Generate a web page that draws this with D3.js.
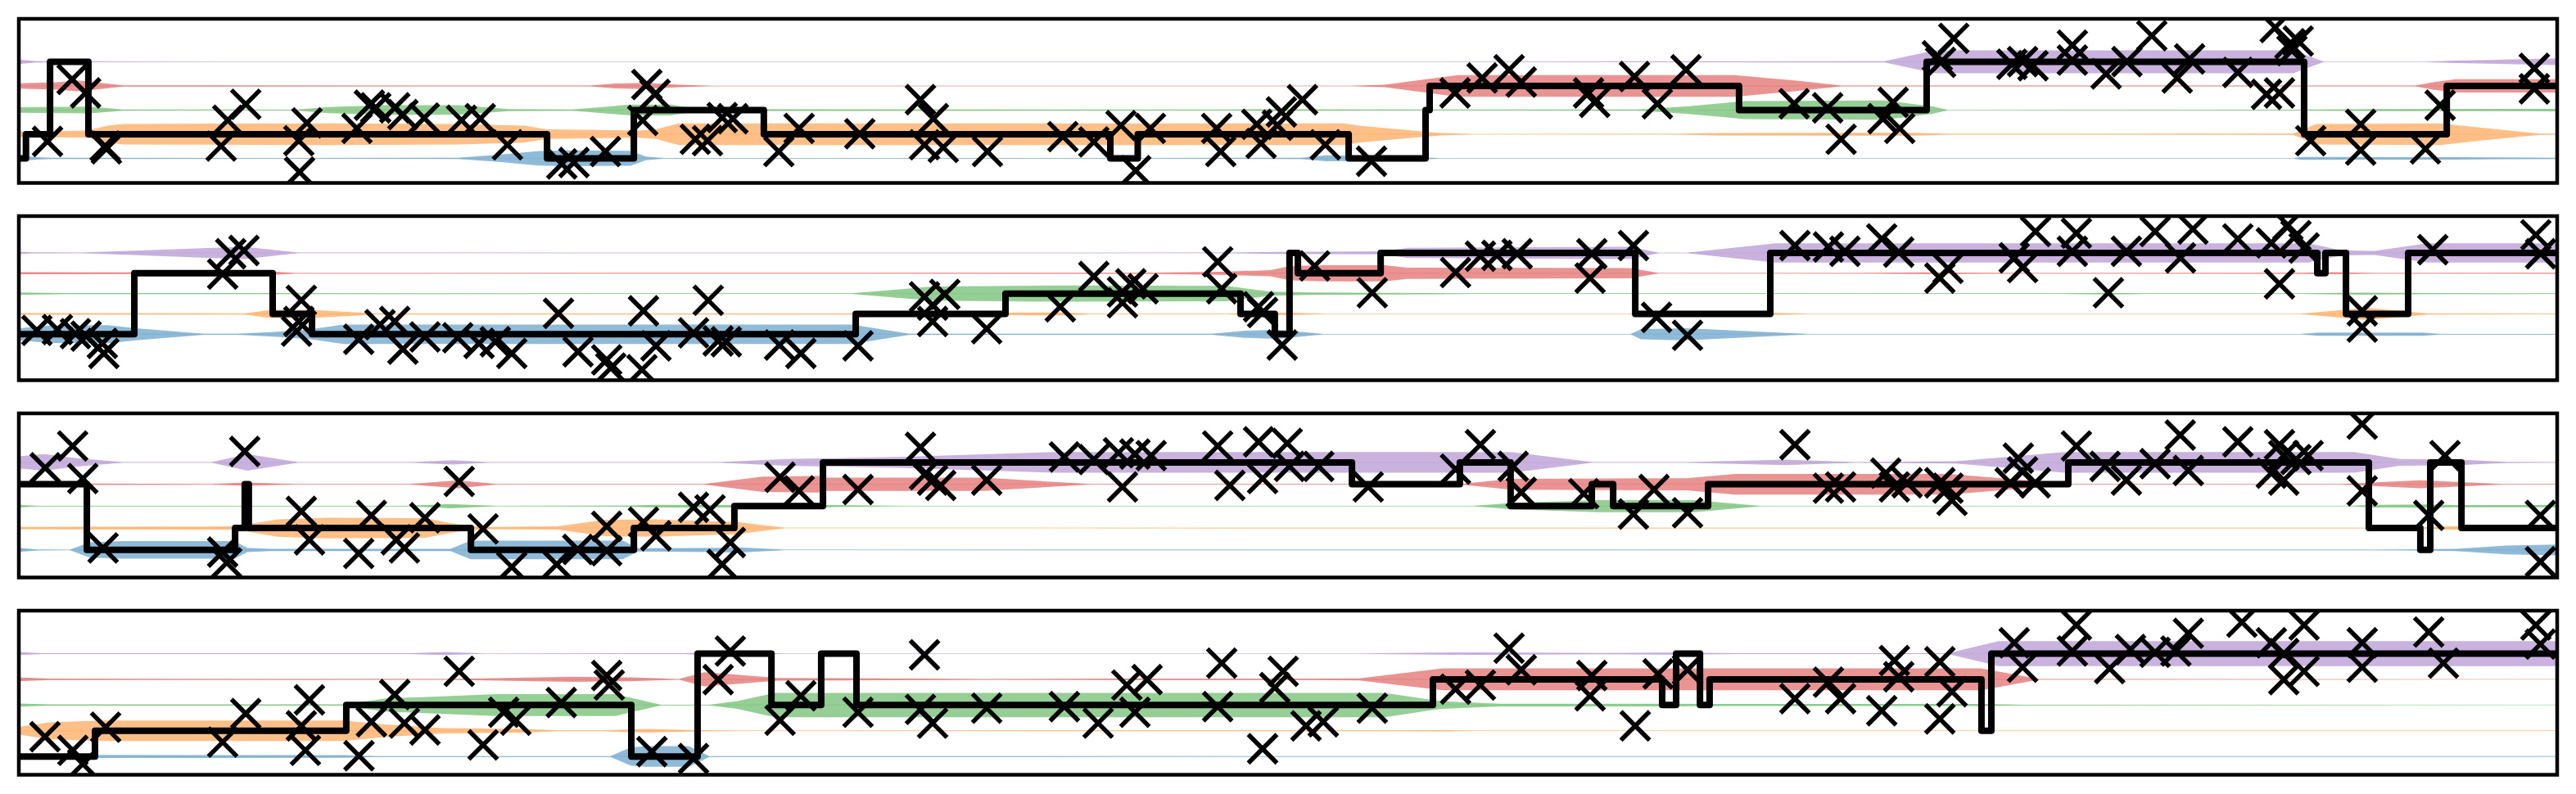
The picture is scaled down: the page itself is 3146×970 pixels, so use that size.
<!DOCTYPE html>
<html>
<head>
<meta charset="utf-8">
<script src="https://cdn.jsdelivr.net/npm/d3@7"></script>
<style>
  html, body { margin: 0; padding: 0; background: #ffffff; }
  svg { display: block; }
</style>
</head>
<body>
<div id="chart"></div>
<script>
// ---------------- DATA ----------------
const stateNames  = ["blue", "orange", "green", "red", "purple"];
const stateColors = ["#1f77b4", "#ff7f0e", "#2ca02c", "#d62728", "#9467bd"];
const stateLevels = [0, 1, 2, 3, 4];
const timeDomain  = [0, 100];

// y-limits per panel (data units, state level spacing = 1)
const panel1YLim = [-1.02, 5.78];
const panel2YLim = [-2.26, 5.81];
const panel3YLim = [-1.26, 6.24];
const panel4YLim = [-0.71, 5.67];

// decoded state sequence: [start time, state index]
const panel1Steps = [[0,0],[0.28,1],[1.23,4],[2.74,1],[20.81,0],[24.23,2],[29.35,1],[43.0,0],[44.08,1],[52.39,0],[55.42,2],[55.58,3],[67.77,2],[75.16,4],[90.03,1],[95.65,3]];
const panel2Steps = [[0,0],[4.55,3],[10.0,1],[11.55,0],[32.97,1],[38.87,2],[48.13,1],[49.48,0],[50.06,4],[50.39,3],[53.65,4],[63.68,1],[69.0,4],[90.55,3],[90.87,4],[91.68,1],[94.13,4]];
const panel3Steps = [[0,3],[2.68,0],[8.52,1],[8.9,3],[9.06,1],[17.81,0],[24.23,1],[28.19,2],[31.68,4],[52.52,3],[56.77,4],[58.77,2],[61.97,3],[62.81,2],[66.55,3],[80.74,4],[92.58,1],[94.61,0],[95.0,4],[96.23,1]];
const panel4Steps = [[0,0],[3.0,1],[12.9,2],[24.13,0],[26.74,4],[29.65,2],[31.61,4],[33.0,2],[55.71,3],[64.74,2],[65.29,4],[66.23,2],[66.61,3],[77.32,1],[77.71,4]];

// observations: [time, value]
const panel1Obs = [[1.13,0.70],[2.10,3.27],[2.63,2.71],[3.40,0.51],[3.45,0.39],[7.97,0.51],[8.23,1.58],[8.94,2.24],[11.35,1.47],[11.03,0.73],[11.06,-0.57],[13.32,1.24],[13.81,2.20],[14.06,2.09],[14.81,2.09],[15.13,1.81],[15.97,1.67],[17.44,1.58],[18.18,1.64],[19.25,0.56],[21.39,-0.23],[21.87,-0.17],[23.11,0.28],[24.74,3.06],[25.06,2.65],[24.58,1.57],[26.65,0.79],[27.13,0.73],[27.71,1.69],[28.13,1.64],[29.94,0.28],[30.74,1.24],[33.13,1.02],[35.52,2.43],[36.03,1.64],[35.68,0.56],[36.42,0.45],[38.16,0.28],[41.13,0.90],[42.35,0.68],[43.42,1.36],[44.58,1.24],[44.00,-0.51],[47.19,1.24],[47.35,0.28],[48.77,1.41],[48.94,0.62],[49.74,1.92],[49.58,1.37],[50.57,2.43],[51.47,0.56],[53.29,-0.12],[56.58,2.71],[57.65,3.33],[58.71,3.67],[59.19,3.16],[61.84,2.71],[62.08,2.32],[63.65,3.39],[64.55,2.26],[65.68,3.67],[69.94,2.26],[71.26,2.09],[71.79,0.79],[73.84,2.32],[73.44,1.64],[74.10,1.24],[75.58,4.25],[75.71,3.98],[76.23,4.97],[78.52,3.90],[78.94,4.01],[79.35,3.84],[80.90,4.69],[80.90,4.07],[82.23,3.50],[83.05,4.01],[84.03,5.08],[85.03,3.33],[85.52,4.12],[87.42,3.56],[88.89,5.42],[89.47,4.75],[89.80,4.86],[89.55,4.46],[88.55,2.65],[89.06,2.71],[90.29,0.73],[92.26,1.41],[92.26,0.34],[94.81,0.39],[95.39,2.20],[99.10,3.73],[99.10,2.88]];
const panel2Obs = [[0.71,0.19],[1.52,0.23],[2.23,0.03],[2.65,-0.09],[3.29,-0.45],[3.35,-0.94],[8.03,2.96],[8.35,3.96],[8.87,4.12],[11.13,1.67],[11.03,0.63],[10.94,0.15],[13.39,-0.25],[14.23,0.47],[14.81,0.63],[15.13,-0.73],[16.0,-0.13],[17.29,-0.17],[18.13,-0.45],[18.77,-0.37],[19.42,-0.94],[21.26,1.03],[22.03,-0.86],[23.16,-1.26],[23.32,-1.66],[24.61,1.15],[25.1,-0.57],[24.55,-1.74],[27.16,1.67],[26.58,0.07],[27.55,-0.33],[27.87,-0.37],[29.97,-0.53],[30.81,-0.94],[33.06,-0.57],[35.68,1.84],[36.0,1.43],[36.48,1.96],[36.0,0.63],[38.13,0.27],[41.03,1.35],[42.35,2.84],[43.48,2.08],[43.81,2.48],[44.29,2.24],[43.48,1.55],[47.23,3.56],[47.39,2.24],[48.84,1.35],[49.0,1.07],[49.77,-0.53],[51.05,3.36],[53.32,2.04],[56.6,3.04],[57.58,3.84],[58.23,3.88],[59.03,3.96],[61.97,3.96],[61.9,2.76],[63.61,4.36],[64.52,0.83],[65.74,-0.05],[69.97,4.36],[71.29,4.29],[71.94,4.08],[73.39,4.69],[74.06,4.04],[75.68,2.76],[76.0,3.24],[78.61,3.76],[78.94,3.28],[79.45,5.05],[81.06,4.97],[80.9,4.08],[82.32,2.04],[83.03,4.08],[84.16,5.05],[85.16,3.76],[85.65,5.17],[87.42,4.69],[88.74,4.49],[89.06,2.48],[89.39,5.37],[89.71,4.85],[90.03,4.24],[92.32,1.15],[92.32,0.35],[95.1,4.16],[99.16,4.89],[99.35,3.96]];
const panel3Obs = [[1.04,3.75],[2.12,4.75],[2.52,3.26],[3.32,0.09],[8.03,-0.10],[8.19,-0.59],[8.9,4.50],[11.13,1.76],[11.45,0.46],[13.39,-0.16],[13.89,1.58],[14.87,0.46],[15.19,0.09],[16.0,1.47],[17.35,3.13],[18.29,0.96],[19.42,-0.78],[21.19,-0.66],[22.02,0.02],[23.16,-0.04],[23.16,1.08],[24.61,1.27],[25.1,0.65],[26.58,1.95],[27.23,1.83],[27.71,-0.66],[28.03,0.34],[29.99,3.32],[30.74,2.70],[33.06,2.76],[35.52,4.69],[35.68,3.44],[36.0,3.19],[36.32,2.95],[38.13,3.19],[41.19,4.25],[42.35,4.13],[43.32,4.44],[43.97,4.38],[44.61,4.31],[43.48,2.88],[47.23,4.75],[47.71,2.95],[48.84,4.94],[49.0,3.26],[49.97,4.87],[50.06,3.82],[51.21,3.82],[53.16,2.88],[57.58,4.81],[56.6,3.69],[58.87,3.82],[59.19,2.63],[61.65,2.57],[63.61,1.64],[64.42,2.76],[65.74,1.70],[69.97,4.81],[71.29,2.82],[71.77,2.88],[73.55,3.51],[73.89,2.88],[74.39,3.07],[75.68,3.07],[76.0,2.82],[76.16,2.26],[78.77,4.19],[78.94,3.57],[78.45,3.07],[79.44,3.07],[81.06,4.75],[82.19,3.82],[83.03,3.19],[84.16,3.94],[85.15,5.25],[85.47,3.63],[87.42,4.94],[89.06,4.81],[89.23,4.31],[89.71,4.13],[90.19,4.31],[88.74,3.51],[89.23,3.19],[92.32,5.75],[92.32,2.70],[94.94,1.58],[95.58,4.31],[99.34,1.58],[99.34,-0.54]];
const panel4Obs = [[1.03,0.77],[2.13,0.24],[2.52,-0.29],[3.42,1.14],[8.03,0.56],[8.94,1.67],[11.29,0.24],[11.13,1.19],[11.45,2.20],[13.4,0.03],[13.89,1.35],[14.81,2.41],[15.19,1.30],[16.0,1.03],[17.35,3.31],[18.29,0.45],[19.1,1.72],[19.58,1.41],[21.37,2.10],[23.16,3.15],[23.26,2.78],[24.94,0.19],[26.58,-0.08],[27.55,2.99],[28.03,4.10],[29.99,1.41],[30.81,2.36],[33.06,1.72],[35.68,3.95],[35.52,1.83],[36.0,1.30],[38.13,1.88],[41.19,1.94],[42.52,1.30],[43.65,2.78],[43.97,1.72],[44.45,2.99],[47.39,3.63],[47.23,1.94],[49.0,0.30],[49.48,2.68],[49.81,3.31],[50.71,1.19],[51.39,1.35],[53.32,1.88],[56.6,2.62],[57.58,2.78],[58.71,4.21],[59.19,3.37],[61.97,3.15],[61.9,2.36],[63.68,1.19],[64.58,3.21],[65.74,3.37],[69.97,2.25],[71.29,2.89],[71.77,2.25],[73.39,1.78],[73.89,3.73],[74.06,3.10],[75.68,3.68],[76.16,2.52],[75.68,1.46],[78.61,4.42],[78.94,3.47],[81.06,5.11],[80.9,4.10],[82.37,3.42],[83.19,4.16],[84.16,4.05],[84.98,4.10],[85.47,4.79],[87.58,5.22],[88.74,4.42],[89.23,4.00],[90.03,5.11],[89.23,2.99],[90.03,3.31],[92.32,4.42],[92.32,3.47],[94.94,4.84],[95.52,3.63],[99.16,5.11],[99.34,4.37]];

// posterior probability per state (blue, orange, green, red, purple): [time, prob]
const panel1Post = [
  [[0,0.25],[0.7,0.1],[1.2,0.05],[9.9,0.03],[17.3,0.05],[18.9,0.3],[20.5,0.6],[21.5,0.65],[24.1,0.62],[24.7,0.15],[25.4,0.03],[43.1,0.03],[43.5,0.12],[44.1,0.03],[50.5,0.05],[51.5,0.25],[54.1,0.2],[56.0,0.02],[89.6,0.02],[89.9,0.12],[96.0,0.1],[100,0.05]],
  [[0,0.22],[1.2,0.25],[2.7,0.3],[3.5,0.7],[4.1,0.85],[12.2,0.9],[17.3,0.85],[19.9,0.7],[20.8,0.4],[24.4,0.3],[25.1,0.4],[26.0,0.9],[52.2,0.9],[52.8,0.7],[54.1,0.45],[56.0,0.1],[57.3,0.02],[65.4,0.03],[67.0,0.1],[74.7,0.12],[76.0,0.03],[89.6,0.05],[90.5,0.85],[95.4,0.9],[96.7,0.6],[99.3,0.05],[100,0.04]],
  [[0,0.23],[2.8,0.28],[4.1,0.05],[10.9,0.03],[12.2,0.25],[14.4,0.4],[17.3,0.4],[19.3,0.08],[21.8,0.05],[23.3,0.3],[24.1,0.45],[25.7,0.45],[26.7,0.08],[47.6,0.04],[48.9,0.07],[55.4,0.04],[63.8,0.05],[65.7,0.3],[68.0,0.75],[73.5,0.8],[75.4,0.3],[76.0,0.02],[89.6,0.03],[92.8,0.08],[100,0.1]],
  [[0,0.22],[1.5,0.3],[2.3,0.45],[3.0,0.3],[4.1,0.05],[22.5,0.03],[23.5,0.2],[24.7,0.25],[26.0,0.1],[27.3,0.02],[52.5,0.02],[53.8,0.1],[56.7,0.9],[67.6,0.9],[70.2,0.4],[71.8,0.03],[94.4,0.03],[95.1,0.3],[96.0,0.55],[100,0.55]],
  [[0,0.18],[0.7,0.05],[2.5,0.03],[8.9,0.02],[54.1,0.02],[63.8,0.03],[73.5,0.05],[74.7,0.6],[75.5,0.95],[89.6,0.95],[90.8,0.02],[94.8,0.02],[96.0,0.1],[100,0.28]]
];
const panel2Post = [
  [[0,0.6],[1.2,0.85],[3.5,0.9],[4.6,0.6],[7.3,0.05],[8.6,0.05],[10.2,0.25],[11.5,0.5],[12.8,0.95],[32.8,0.95],[35.1,0.05],[47.0,0.05],[48.3,0.35],[49.6,0.45],[51.4,0.02],[63.5,0.02],[63.9,0.5],[65.7,0.6],[70.5,0.02],[89.9,0.02],[90.6,0.16],[94.7,0.16],[95.4,0.03],[100,0.03]],
  [[0,0.08],[8.9,0.05],[9.9,0.4],[11.5,0.4],[14.1,0.05],[32.8,0.05],[34.1,0.15],[38.6,0.12],[41.2,0.15],[42.2,0.03],[47.6,0.03],[48.9,0.12],[50.2,0.1],[51.5,0.02],[63.5,0.02],[63.8,0.3],[67.0,0.25],[70.5,0.02],[89.9,0.02],[92.5,0.6],[94.9,0.05],[100,0.03]],
  [[0,0.12],[1.8,0.05],[32.8,0.03],[34.1,0.3],[36.0,0.7],[41.2,0.8],[47.6,0.75],[49.3,0.2],[50.9,0.12],[57.3,0.03],[80.5,0.03],[82.3,0.08],[83.8,0.03],[89.9,0.03],[92.2,0.1],[94.9,0.05],[100,0.03]],
  [[0,0.1],[4.4,0.08],[5.7,0.2],[9.9,0.18],[10.9,0.03],[33.5,0.04],[44.4,0.05],[47.3,0.15],[49.3,0.3],[50.1,0.7],[51.5,0.8],[53.8,0.8],[54.7,0.55],[63.5,0.5],[64.6,0.02],[72.2,0.03],[75.1,0.08],[78.9,0.03],[89.9,0.05],[91.2,0.1],[92.8,0.03],[100,0.05]],
  [[0,0.12],[0.5,0.05],[2.5,0.03],[7.0,0.45],[8.9,0.6],[11.0,0.03],[32.8,0.02],[47.6,0.03],[49.6,0.1],[53.8,0.15],[54.7,0.5],[63.5,0.6],[64.6,0.02],[65.7,0.02],[69.2,0.95],[90.2,0.95],[91.5,0.25],[92.8,0.2],[94.9,0.95],[100,0.95]]
];
const panel3Post = [
  [[0,0.19],[0.7,0.05],[2.0,0.02],[2.8,0.7],[4.1,0.8],[8.5,0.8],[9.0,0.2],[9.9,0.1],[17.0,0.1],[17.8,0.85],[23.8,0.85],[24.4,0.15],[27.6,0.2],[28.3,0.25],[30.2,0.02],[51.5,0.03],[92.8,0.03],[94.7,0.06],[96.0,0.1],[98.0,0.4],[100,0.5]],
  [[0,0.1],[2.5,0.12],[8.3,0.15],[8.9,0.3],[10.2,0.8],[12.2,0.95],[16.0,0.9],[17.6,0.2],[18.6,0.1],[21.2,0.15],[23.1,0.75],[25.1,0.8],[28.3,0.55],[30.2,0.02],[34.7,0.02],[94.4,0.03],[95.7,0.15],[100,0.2]],
  [[0,0.12],[0.7,0.03],[15.4,0.03],[17.0,0.2],[18.8,0.02],[23.8,0.05],[25.1,0.12],[31.8,0.1],[34.7,0.02],[57.3,0.02],[58.9,0.3],[62.2,0.55],[66.0,0.55],[68.6,0.02],[91.8,0.02],[92.8,0.12],[94.9,0.15],[96.0,0.1],[100,0.1]],
  [[0,0.08],[7.6,0.03],[8.9,0.15],[10.9,0.02],[15.4,0.02],[17.3,0.37],[18.8,0.02],[27.0,0.02],[29.3,0.7],[31.5,0.75],[31.8,0.6],[38.0,0.6],[42.2,0.02],[56.8,0.03],[58.8,0.5],[65.7,0.55],[67.6,0.95],[76.0,0.95],[80.9,0.02],[91.5,0.02],[94.6,0.37],[97.9,0.02],[100,0.02]],
  [[0,0.55],[1.0,0.75],[2.2,0.4],[4.1,0.02],[7.6,0.02],[9.0,0.75],[11.0,0.02],[15.4,0.02],[17.1,0.2],[18.5,0.02],[27.6,0.02],[30.2,0.3],[34.7,0.5],[40.9,0.95],[58.8,0.95],[62.0,0.02],[65.7,0.02],[69.6,0.25],[72.4,0.03],[76.3,0.1],[80.6,0.95],[92.0,0.95],[93.8,0.3],[96.2,0.25],[98.0,0.05],[100,0.03]]
];
const panel4Post = [
  [[0,0.22],[1.8,0.15],[3.1,0.12],[12.8,0.1],[14.1,0.03],[23.3,0.03],[24.1,0.7],[24.7,0.8],[26.4,0.8],[27.2,0.03],[100,0.02]],
  [[0,0.3],[1.2,0.65],[3.2,0.8],[12.8,0.8],[14.4,0.5],[16.7,0.2],[19.9,0.15],[21.2,0.03],[23.1,0.03],[24.7,0.15],[26.6,0.05],[28.3,0.02],[54.1,0.03],[56.0,0.05],[57.3,0.02],[100,0.01]],
  [[0,0.12],[1.2,0.05],[12.8,0.05],[14.4,0.5],[18.8,0.85],[23.5,0.85],[25.3,0.02],[27.2,0.02],[28.3,0.3],[29.8,0.95],[53.8,0.95],[56.0,0.3],[58.4,0.1],[64.7,0.1],[67.0,0.08],[77.3,0.08],[78.9,0.02],[100,0.01]],
  [[0,0.15],[1.2,0.05],[17.0,0.03],[21.8,0.2],[24.1,0.15],[26.0,0.02],[27.0,0.55],[28.0,0.4],[29.9,0.1],[36.0,0.05],[38.0,0.03],[43.1,0.06],[50.9,0.05],[52.8,0.08],[56.1,0.85],[77.3,0.85],[79.6,0.02],[100,0.01]],
  [[0,0.12],[0.9,0.03],[15.4,0.03],[16.8,0.12],[18.3,0.02],[26.2,0.03],[27.6,0.15],[30.2,0.02],[52.8,0.02],[57.3,0.1],[62.5,0.05],[65.4,0.08],[67.6,0.03],[76.0,0.03],[78.0,0.97],[100,0.97]]
];

// ---------------- LAYOUT ----------------
const W = 3146, H = 970;
const frameLeft = 23, frameRight = 3123;
const panelTop0 = 23, panelPitch = 241, panelHeight = 200.5;

const panels = [
  { steps: panel1Steps, obs: panel1Obs, post: panel1Post, yLim: panel1YLim },
  { steps: panel2Steps, obs: panel2Obs, post: panel2Post, yLim: panel2YLim },
  { steps: panel3Steps, obs: panel3Obs, post: panel3Post, yLim: panel3YLim },
  { steps: panel4Steps, obs: panel4Obs, post: panel4Post, yLim: panel4YLim }
];

const svg = d3.select("#chart").append("svg")
  .attr("width", W).attr("height", H)
  .attr("viewBox", `0 0 ${W} ${H}`);

svg.append("rect").attr("width", W).attr("height", H).attr("fill", "#ffffff");

const x = d3.scaleLinear().domain(timeDomain).range([frameLeft, frameRight]);
const markerHalf = 17.5;

panels.forEach((p, i) => {
  const top = panelTop0 + i * panelPitch;
  const y = d3.scaleLinear().domain(p.yLim).range([top + panelHeight, top]);
  const g = svg.append("g").attr("class", "panel panel-" + (i + 1));

  const clipId = "clip" + i;
  svg.append("defs").append("clipPath").attr("id", clipId)
    .append("rect")
    .attr("x", frameLeft).attr("y", top)
    .attr("width", frameRight - frameLeft).attr("height", panelHeight);

  const inner = g.append("g").attr("clip-path", `url(#${clipId})`);

  // faint baseline of each state's posterior
  stateLevels.forEach((lvl, s) => {
    inner.append("line")
      .attr("x1", x(timeDomain[0])).attr("x2", x(timeDomain[1]))
      .attr("y1", y(lvl)).attr("y2", y(lvl))
      .attr("stroke", stateColors[s])
      .attr("stroke-opacity", 0.12)
      .attr("stroke-width", 1.5);
  });

  // posterior spindles
  p.post.forEach((series, s) => {
    const lvl = stateLevels[s];
    const area = d3.area()
      .x(d => x(d[0]))
      .y0(d => y(lvl - 0.5 * d[1]))
      .y1(d => y(lvl + 0.5 * d[1]))
      .curve(d3.curveLinear);
    inner.append("path")
      .datum(series)
      .attr("d", area)
      .attr("fill", stateColors[s])
      .attr("fill-opacity", 0.5)
      .attr("stroke", "none");
  });

  // decoded state sequence as step line
  const stepPts = p.steps.map(d => [d[0], stateLevels[d[1]]]);
  stepPts.push([timeDomain[1], stateLevels[p.steps[p.steps.length - 1][1]]]);
  const stepLine = d3.line()
    .x(d => x(d[0]))
    .y(d => y(d[1]))
    .curve(d3.curveStepAfter);
  inner.append("path")
    .datum(stepPts)
    .attr("d", stepLine)
    .attr("fill", "none")
    .attr("stroke", "#000000")
    .attr("stroke-width", 8)
    .attr("stroke-linejoin", "round")
    .attr("stroke-linecap", "butt");

  // observations as x markers
  inner.selectAll("path.obs")
    .data(p.obs)
    .enter().append("path")
    .attr("class", "obs")
    .attr("d", d => {
      const cx = x(d[0]), cy = y(d[1]), h = markerHalf;
      return `M${cx - h},${cy - h}L${cx + h},${cy + h}M${cx - h},${cy + h}L${cx + h},${cy - h}`;
    })
    .attr("fill", "none")
    .attr("stroke", "#000000")
    .attr("stroke-width", 5.5)
    .attr("stroke-linecap", "butt");

  // frame
  g.append("rect")
    .attr("x", frameLeft).attr("y", top)
    .attr("width", frameRight - frameLeft).attr("height", panelHeight)
    .attr("fill", "none")
    .attr("stroke", "#000000")
    .attr("stroke-width", 4.5);
});
</script>
</body>
</html>
